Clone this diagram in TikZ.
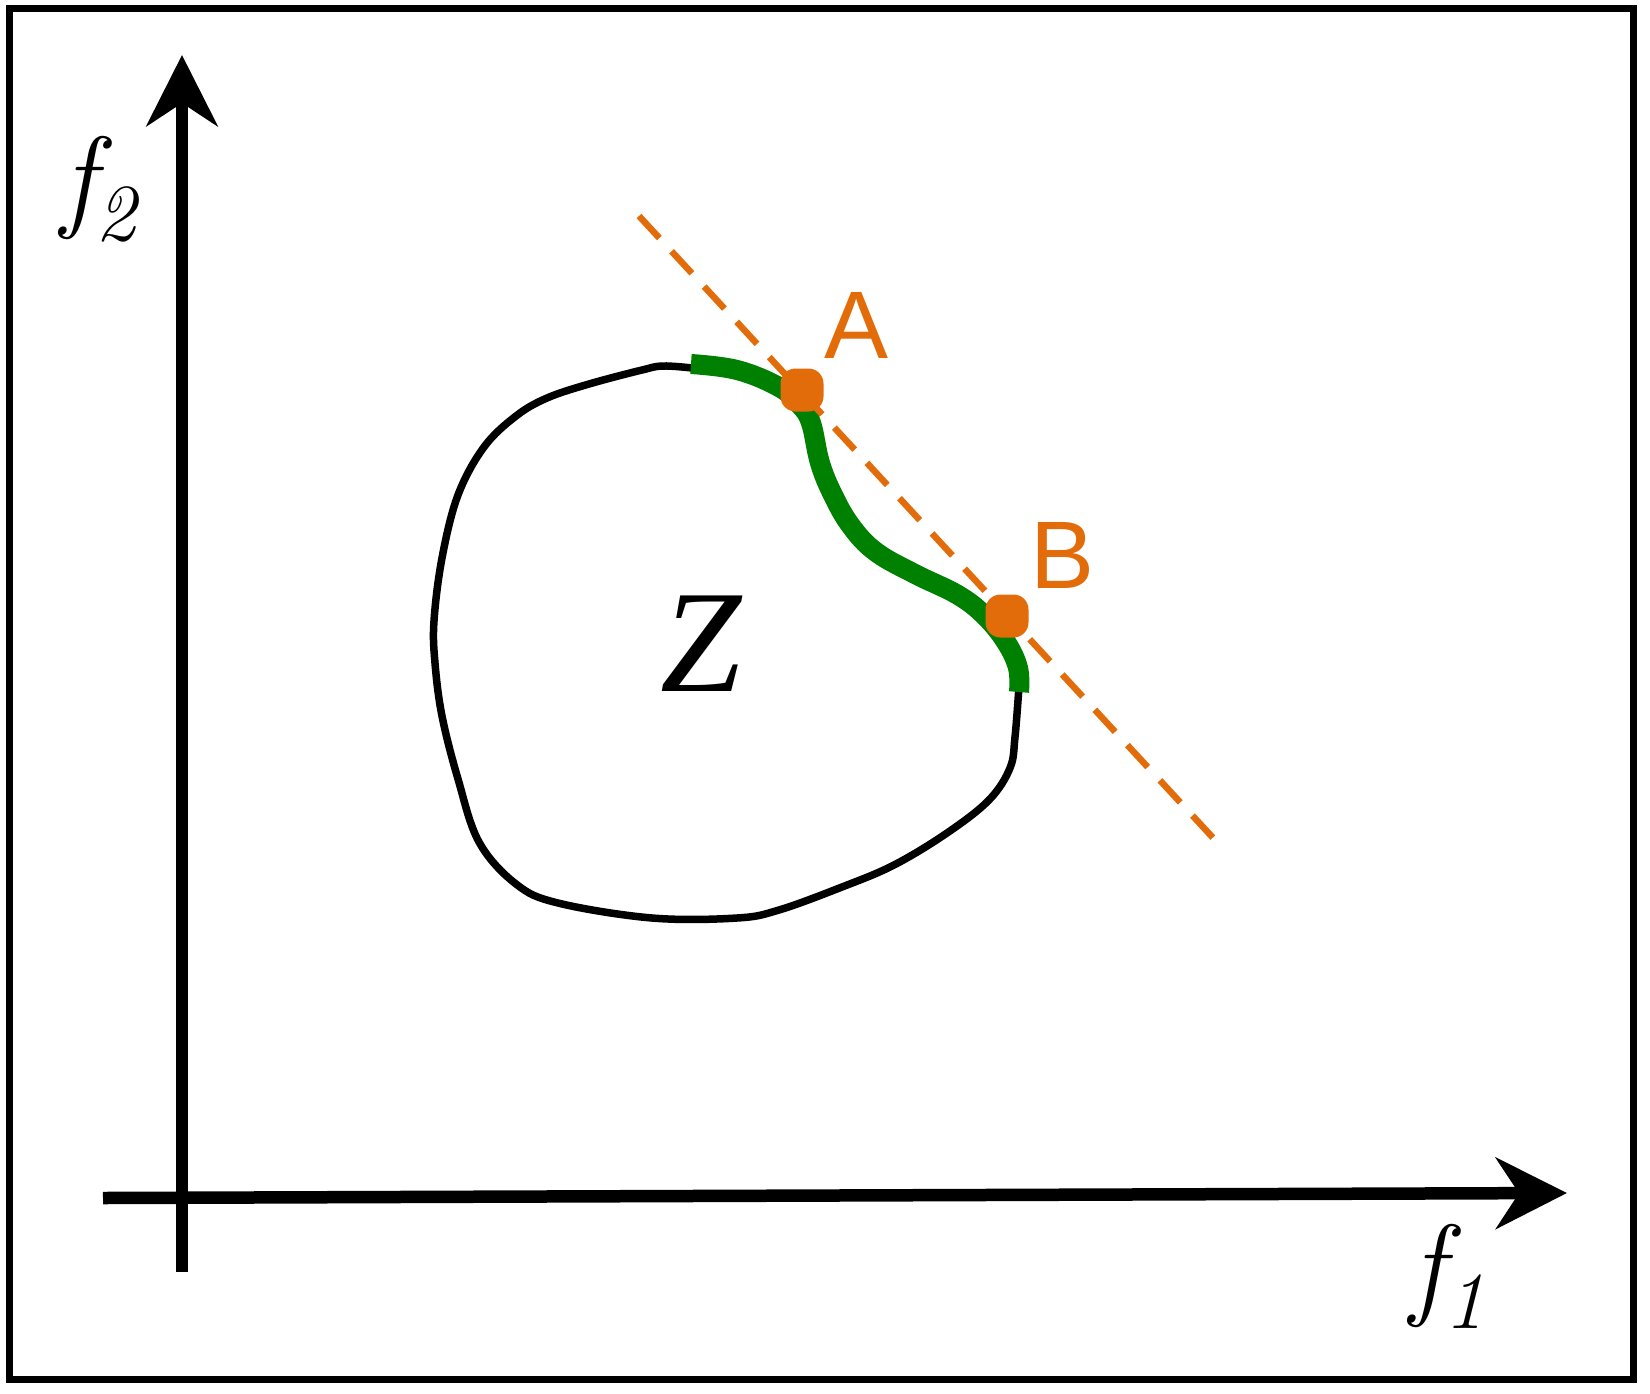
\documentclass[tikz,border=0pt]{standalone}
\usepackage{fontspec}
\newfontfamily\timesfont{Liberation Serif}
\newfontfamily\labelsans{Liberation Sans}
\usetikzlibrary{arrows.meta}
\definecolor{orng}{RGB}{227,108,10}
\definecolor{grn}{RGB}{0,128,0}
\begin{document}
\begin{tikzpicture}[x=1pt,y=-1pt,
  axisline/.style={line width=12.5pt,-{Stealth[length=71pt,width=71pt,inset=23pt]}},
  frontier/.style={grn,line width=20pt,line cap=butt},
  boundary/.style={black,line width=7.5pt},
  support/.style={orng,line width=6.5pt,dash pattern=on 30pt off 18pt},
  dotmark/.style={fill=orng,draw=none,rounded corners=15pt,minimum size=43pt,inner sep=0pt},
  ptlabel/.style={orng,font=\labelsans\fontsize{96}{96}\selectfont,inner sep=0pt},
  axlabel/.style={inner sep=0pt}]
\useasboundingbox (0,0) rectangle (1650,1393);
\draw[line width=7pt] (9,8) rectangle (1633,1379);
% axes
\coordinate (yb) at (182,1272);
\coordinate (yt) at (182,55);
\coordinate (xl) at (103,1198);
\coordinate (xr) at (1567,1193);
\draw[axisline] (yb) -- (yt);
\draw[axisline] (xl) -- (xr);
\node[axlabel] (f2) at (99,189) {\fontsize{114}{114}\selectfont\itshape f\raisebox{-24pt}{\fontsize{81}{81}\selectfont 2}};
\node[axlabel] (f1) at (1448,1276) {\fontsize{114}{114}\selectfont\itshape f\raisebox{-24pt}{\fontsize{81}{81}\selectfont 1}};
% region boundary
\draw[boundary] plot[smooth,tension=0.6] coordinates {(692,368) (663,366) (642,370) (589,384) (547,398) (516,416) (484,447) (458,495) (442,558) (434,621) (435,663) (442,716) (458,779) (479,842) (516,884) (558,903) (652,918) (737,918) (779,910) (842,887) (894,865) (947,833) (989,800) (1010,768) (1015,737) (1019,686)};
% pareto front
\draw[frontier] plot[smooth,tension=0.65] coordinates {(691,364) (737,370) (779,387) (800,405) (811,423) (820,463) (833,495) (851,526) (876,552) (915,574) (958,595) (985,616) (1006,642) (1018,668) (1019,692)};
% supporting line
\coordinate (s1) at (639,216);
\coordinate (s2) at (1215,840);
\draw[support] (s1) -- (s2);
\node[dotmark] (A) at (802,390) {};
\node[dotmark] (B) at (1007,616) {};
\node[ptlabel] (Alab) at (857,325) {A};
\node[ptlabel] (Blab) at (1063,555) {B};
\node[inner sep=0pt] (Z) at (701,644) {\timesfont\fontsize{146}{146}\selectfont\itshape Z};
\end{tikzpicture}
\end{document}
